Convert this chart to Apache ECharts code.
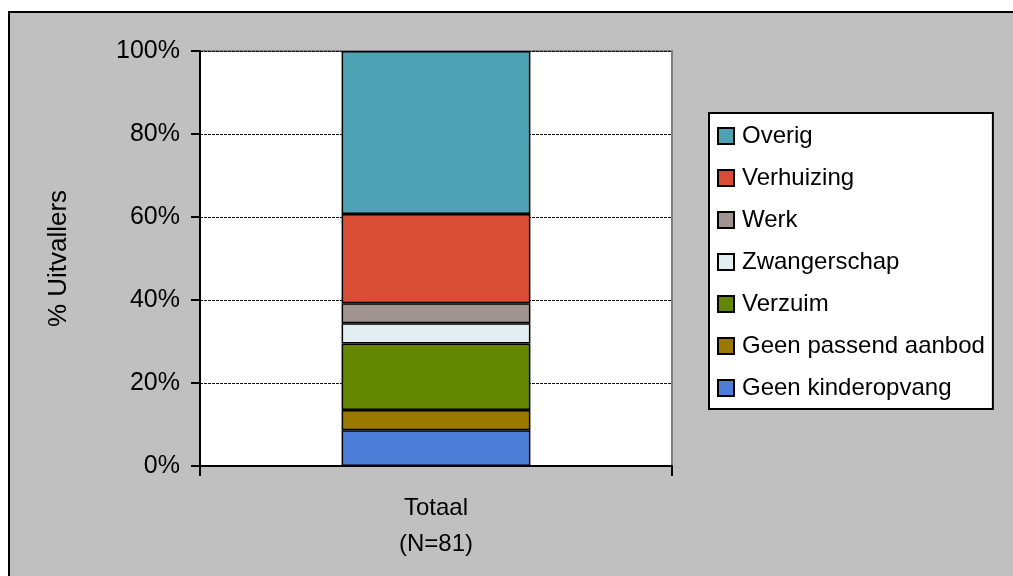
<!DOCTYPE html>
<html>
<head>
<meta charset="utf-8">
<script src="https://cdn.jsdelivr.net/npm/echarts@6/dist/echarts.min.js"></script>
<style>
html,body{margin:0;padding:0;background:#fff;}
#c{width:1013px;height:576px;}
</style>
</head>
<body>
<div id="c"></div>
<script>
const categories = ['Totaal\n(N=81)'];
const seriesNames = ['Geen kinderopvang','Geen passend aanbod','Verzuim','Zwangerschap','Werk','Verhuizing','Overig'];
const seriesValues = [[8.6],[4.9],[16.0],[4.9],[4.8],[21.5],[39.3]];
const seriesColors = ['#4c7ed7','#9b7800','#638700','#e1eff3','#a1938f','#d84d33','#4ea2b4'];
const yTicks = [0,20,40,60,80,100];

const font = 'Liberation Sans, Arial, sans-serif';
const chart = echarts.init(document.getElementById('c'), null, {renderer:'canvas'});
chart.setOption({
  animation:false,
  backgroundColor:'#fff',
  graphic:[{
    type:'rect', z:-10, silent:true,
    shape:{x:9,y:12,width:1100,height:700},
    style:{fill:'#c0c0c0',stroke:'#000',lineWidth:2}
  }],
  grid:{left:200,top:51,right:341,bottom:110,show:true,backgroundColor:'#fff',borderColor:'#808080',borderWidth:2},
  legend:{
    orient:'vertical', left:709, top:113,
    data:seriesNames.slice().reverse(),
    backgroundColor:'#fff', borderColor:'#000', borderWidth:2,
    padding:[11,8,9,8],
    itemWidth:16, itemHeight:16, itemGap:18,
    textStyle:{fontFamily:font,fontSize:24,color:'#000',padding:[0,0,0,3]},
    icon:'rect'
  },
  xAxis:{
    type:'category', data:categories,
    axisLine:{lineStyle:{color:'#000',width:2}},
    axisTick:{show:true,length:10,inside:false,lineStyle:{color:'#000',width:2}},
    axisLabel:{fontFamily:font,fontSize:24,color:'#000',lineHeight:36,margin:24}
  },
  yAxis:{
    type:'value', min:yTicks[0], max:yTicks[yTicks.length-1], interval:20,
    name:'% Uitvallers', nameLocation:'middle', nameGap:128, nameRotate:90,
    nameTextStyle:{fontFamily:font,fontSize:26,color:'#000'},
    axisLine:{show:true,lineStyle:{color:'#000',width:2}},
    axisTick:{show:true,length:9,lineStyle:{color:'#000',width:2}},
    axisLabel:{fontFamily:font,fontSize:25,color:'#000',margin:20,formatter:'{value}%'},
    splitLine:{show:true,lineStyle:{color:'#111',width:1,type:[3,1]}}
  },
  series:seriesNames.map((n,i)=>({
    name:n, type:'bar', stack:'total', data:seriesValues[i], barWidth:'40%',
    itemStyle:{color:seriesColors[i],borderColor:'#000',borderWidth:1.5}
  }))
});
</script>
</body>
</html>
